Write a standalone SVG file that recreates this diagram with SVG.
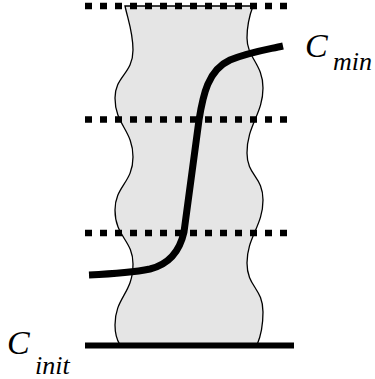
<svg xmlns="http://www.w3.org/2000/svg" width="375" height="379" viewBox="0 0 375 379">
<style>
.region{fill:#e5e5e5;stroke:#000;stroke-width:1.3}
.level{stroke:#000;stroke-width:6.5;stroke-dasharray:7 8;fill:none}
.base{stroke:#000;stroke-width:6;fill:none}
.curve{stroke:#000;stroke-width:7;fill:none;stroke-linecap:butt}
.lbl{font-family:"Times New Roman","Liberation Serif",serif;font-style:italic;fill:#000}
</style>
<rect width="375" height="379" fill="#fff"/>
<g id="region">
<path class="region" d="M125,6 C128,20 133,32 133,50 C133,74 115,76 115,98 C115,125 133,130 133,157 C133,183 115,186 115,210 C115,237 133,240 133,264 C133,294 115,297 115,325 C115,333 117,340 120,345 L257,345 C260,338 263,326 263,312 C263,288 247,287 247,263 C247,237 263,226 263,200 C263,176 247,176 247,153 C247,125 263,114 263,88 C263,64 247,58 247,38 C247,24 250,14 253,6 Z"/>
</g>
<g id="levels">
<line class="level" x1="85" y1="6" x2="287" y2="6"/>
<line class="level" x1="85" y1="119.5" x2="287" y2="119.5"/>
<line class="level" x1="85" y1="233" x2="287" y2="233"/>
<line class="base" x1="85" y1="345.5" x2="294" y2="345.5"/>
</g>
<g id="curve">
<path class="curve" d="M89,275 C110,274 130,273 150,269 C170,264 180,250 184,232 L199,120 C203,95 208,70 230,60 C250,52 265,50 283,46"/>
</g>
<g id="label-cmin">
<text class="lbl" x="305" y="57" font-size="34">C</text>
<text class="lbl" x="333" y="70" font-size="26">min</text>
</g>
<g id="label-cinit">
<text class="lbl" x="7" y="354" font-size="34">C</text>
<text class="lbl" x="35" y="374" font-size="26">init</text>
</g>
</svg>
